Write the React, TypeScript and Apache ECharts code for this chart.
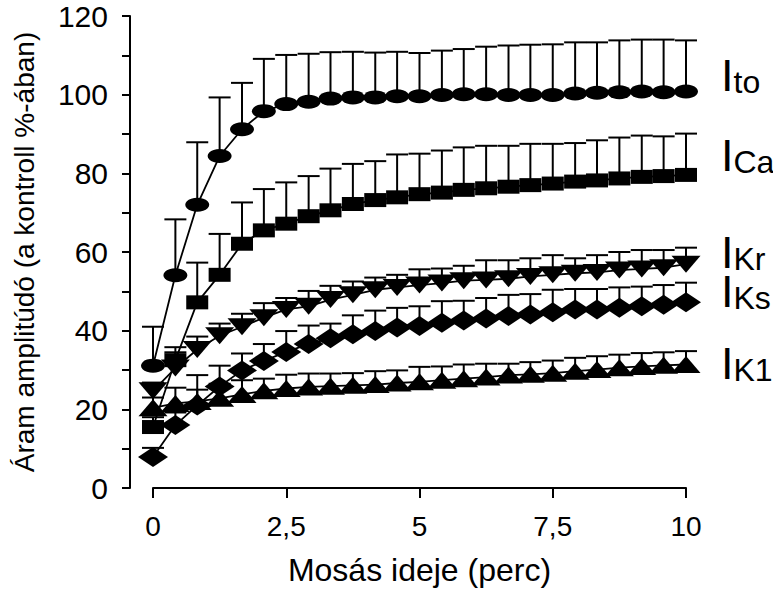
import React, { useEffect, useRef } from "react";
import * as echarts from "echarts";

// Time points (min)
const X = [0, 0.42, 0.83, 1.25, 1.67, 2.08, 2.5, 2.92, 3.33, 3.75, 4.17, 4.58, 5, 5.42, 5.83, 6.25, 6.67, 7.08, 7.5, 7.92, 8.33, 8.75, 9.17, 9.58, 10];

const ITO = [31.1, 54.1, 72.0, 84.4, 91.2, 95.8, 97.6, 98.2, 99.0, 99.3, 99.3, 99.6, 99.6, 99.9, 100.1, 100.1, 99.9, 99.9, 99.9, 100.3, 100.5, 100.6, 100.8, 100.6, 100.8];
const ITO_ERR = [9.9, 14.2, 15.9, 14.9, 11.8, 13.3, 12.5, 12.2, 11.8, 11.6, 11.4, 11.3, 11.0, 11.3, 11.5, 12.1, 12.6, 12.8, 12.9, 13.0, 12.8, 13.2, 13.2, 13.4, 13.0];

const ICA = [15.5, 32.5, 47.2, 54.2, 62.1, 65.5, 67.2, 69.1, 70.6, 72.2, 73.2, 73.9, 74.7, 75.1, 75.8, 76.2, 76.6, 77.0, 77.4, 77.9, 78.2, 78.7, 79.1, 79.3, 79.6];
const ICA_ERR = [2.5, 3.3, 10.1, 10.4, 10.5, 10.5, 10.5, 10.2, 10.6, 10.2, 9.9, 10.9, 10.3, 10.7, 10.8, 10.8, 10.4, 10.5, 10.1, 9.8, 10.2, 10.4, 10.5, 10.1, 10.5];

const IKR = [24.7, 30.5, 35.2, 38.7, 41.0, 43.3, 45.4, 46.2, 47.9, 49.1, 50.4, 51.0, 51.6, 52.1, 52.7, 52.9, 53.2, 53.8, 54.2, 54.6, 54.8, 55.4, 55.7, 56.0, 56.9];
const IKR_ERR = [2.1, 4.0, 3.3, 3.1, 3.3, 3.7, 2.9, 3.9, 3.5, 3.4, 3.1, 3.2, 4.0, 3.7, 3.8, 5.0, 4.7, 4.6, 5.0, 3.8, 4.4, 4.6, 4.8, 4.5, 4.2];

const IKS = [7.9, 16.0, 21.0, 25.8, 29.9, 32.3, 34.6, 36.6, 38.1, 39.1, 39.9, 40.8, 41.2, 42.0, 42.6, 43.1, 43.7, 44.1, 44.7, 45.4, 45.4, 45.8, 46.2, 46.6, 47.2];
const IKS_ERR = [2.3, 3.2, 7.7, 5.3, 4.3, 4.3, 5.3, 4.7, 3.7, 4.8, 5.2, 5.0, 5.0, 5.5, 5.0, 5.2, 5.4, 5.2, 5.7, 5.2, 5.2, 5.2, 5.0, 5.0, 5.0];

const IK1 = [20.4, 21.5, 22.0, 22.8, 23.8, 24.7, 25.3, 25.7, 25.9, 26.1, 26.3, 26.7, 27.0, 27.4, 27.8, 28.2, 28.7, 28.9, 29.2, 29.7, 30.1, 30.6, 30.9, 31.2, 31.4];
const IK1_ERR = [2.6, 4.0, 3.0, 3.7, 3.6, 3.1, 3.5, 3.4, 3.2, 3.1, 3.4, 3.2, 3.8, 3.5, 3.6, 3.4, 2.9, 3.1, 3.2, 3.4, 3.4, 3.3, 3.4, 3.3, 3.4];

const X_TICKS = [0, 2.5, 5, 7.5, 10];
const Y_LABELS = [0, 20, 40, 60, 80, 100, 120];

const LABEL_MAIN = ["I", "I", "I", "I", "I"];
const LABEL_SUB = ["to", "Ca", "Kr", "Ks", "K1"];

const FONT = "'Liberation Sans', Arial, Helvetica, sans-serif";

const SERIES_DEF = [
  { key: "Ito", mean: ITO, err: ITO_ERR, symbol: "circle", size: [24, 14], rotate: 0 },
  { key: "ICa", mean: ICA, err: ICA_ERR, symbol: "rect", size: [22, 14], rotate: 0 },
  { key: "IKr", mean: IKR, err: IKR_ERR, symbol: "triangle", size: [29, 17], rotate: 180 },
  { key: "IKs", mean: IKS, err: IKS_ERR, symbol: "diamond", size: [30, 20], rotate: 0 },
  { key: "IK1", mean: IK1, err: IK1_ERR, symbol: "triangle", size: [29, 17], rotate: 0 },
];

// label anchor (bottom of text line box) positions on the right side
const LABEL_POS = [
  [721, 98],
  [721, 178],
  [721, 275],
  [721, 314],
  [721, 386],
];

export default function App() {
  const ref = useRef<HTMLDivElement>(null);
  useEffect(() => {
    if (!ref.current) return;
    const chart = echarts.init(ref.current, undefined, { renderer: "svg" });

    const errSeries = SERIES_DEF.map((s) => ({
      type: "custom",
      name: s.key + " err",
      clip: false,
      silent: true,
      z: 1,
      data: X.map((x, i) => [x, s.mean[i], s.err[i]]),
      renderItem: (params: any, api: any) => {
        const x = api.value(0);
        const y = api.value(1);
        const e = api.value(2);
        const p0 = api.coord([x, y]);
        const p1 = api.coord([x, y + e]);
        const hw = 11;
        return {
          type: "group",
          children: [
            {
              type: "line",
              shape: { x1: p0[0], y1: p0[1], x2: p1[0], y2: p1[1] },
              style: { stroke: "#000", lineWidth: 2 },
            },
            {
              type: "line",
              shape: { x1: p1[0] - hw, y1: p1[1], x2: p1[0] + hw, y2: p1[1] },
              style: { stroke: "#000", lineWidth: 2 },
            },
          ],
        };
      },
    }));

    const lineSeries = SERIES_DEF.map((s) => ({
      type: "line",
      name: s.key,
      data: X.map((x, i) => [x, s.mean[i]]),
      symbol: s.symbol,
      symbolSize: s.size,
      symbolRotate: s.rotate,
      showSymbol: true,
      clip: false,
      silent: true,
      z: 3,
      itemStyle: { color: "#000", borderWidth: 0 },
      lineStyle: { color: "#000", width: 1.8 },
    }));

    const graphics = LABEL_SUB.map((sub, i) => ({
      type: "text",
      x: LABEL_POS[i][0],
      y: LABEL_POS[i][1],
      style: {
        text: "{a|" + LABEL_MAIN[i] + "}{b|" + sub + "}",
        verticalAlign: "bottom",
        align: "left",
        rich: {
          a: { fontSize: 45, fontFamily: FONT, fill: "#000", verticalAlign: "bottom", lineHeight: 33 },
          b: { fontSize: 32, fontFamily: FONT, fill: "#000", verticalAlign: "bottom", lineHeight: 24 },
        },
      },
    }));

    chart.setOption({
      animation: false,
      backgroundColor: "#fff",
      textStyle: { fontFamily: FONT, color: "#000" },
      grid: { left: 153, top: 16, width: 533, height: 476, containLabel: false },
      xAxis: {
        type: "value",
        min: 0,
        max: 10,
        interval: 2.5,
        name: "Mosás ideje (perc)",
        nameLocation: "middle",
        nameGap: 66,
        nameTextStyle: { fontSize: 32, fontFamily: FONT, color: "#000" },
        axisLine: { show: true, onZero: false, lineStyle: { color: "#000", width: 2 } },
        axisTick: { show: true, inside: false, length: 10, lineStyle: { color: "#000", width: 2 } },
        axisLabel: {
          fontSize: 28,
          fontFamily: FONT,
          color: "#000",
          margin: 24,
          formatter: (v: number) => (X_TICKS.indexOf(v) >= 0 ? String(v).replace(".", ",") : ""),
        },
        splitLine: { show: false },
      },
      yAxis: {
        type: "value",
        min: 0,
        max: 120,
        interval: 10,
        offset: 23,
        name: "Áram amplitúdó (a kontroll %-ában)",
        nameLocation: "middle",
        nameGap: 92,
        nameTextStyle: { fontSize: 28, fontFamily: FONT, color: "#000" },
        axisLine: { show: true, onZero: false, lineStyle: { color: "#000", width: 2 } },
        axisTick: { show: true, inside: false, length: 8, lineStyle: { color: "#000", width: 2 } },
        axisLabel: {
          fontSize: 30,
          fontFamily: FONT,
          color: "#000",
          margin: 22,
          formatter: (v: number) => (Y_LABELS.indexOf(v) >= 0 ? String(v) : ""),
        },
        splitLine: { show: false },
      },
      graphic: graphics,
      series: [...errSeries, ...lineSeries],
    });

    return () => chart.dispose();
  }, []);

  return (
    <div
      ref={ref}
      style={{ position: "fixed", left: 0, top: 0, width: 773, height: 591, background: "#fff" }}
    />
  );
}
